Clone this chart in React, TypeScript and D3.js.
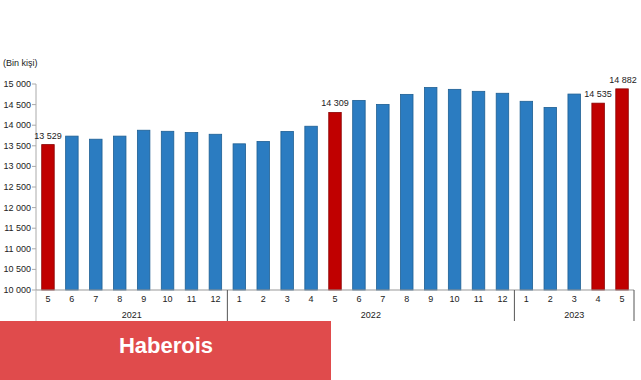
import React from "react";
import * as d3 from "d3";

const months: string[] = ["5","6","7","8","9","10","11","12","1","2","3","4","5","6","7","8","9","10","11","12","1","2","3","4","5"];
const years: string[] = ["2021","2022","2023"];
const yearCounts: number[] = [8, 12, 5];
const values: number[] = [13529,13735,13660,13735,13878,13852,13822,13780,13548,13605,13848,13975,14309,14602,14505,14748,14915,14870,14822,14775,14580,14432,14756,14535,14882];
const highlighted: number[] = [0, 12, 23, 24];
const yTicks: number[] = [10000,10500,11000,11500,12000,12500,13000,13500,14000,14500,15000];

const fmt = (v: number) => d3.format(",")(v).replace(/,/g, " ");

export default function App() {
  const W = 641, H = 380;
  const left = 36, right = 634, top = 84, bottom = 290;
  const ids = months.map((_, i) => String(i));
  const x = d3.scaleBand<string>().domain(ids).range([left, right]).paddingInner(0.48).paddingOuter(0.24);
  const y = d3.scaleLinear().domain([10000, 15000]).range([bottom, top]);
  const step = x.step();
  let acc = 0;
  const seps: number[] = [left];
  const yearPos = yearCounts.map((c) => {
    const s = left + acc * ((right - left) / months.length);
    acc += c;
    const e = left + acc * ((right - left) / months.length);
    seps.push(e);
    return (s + e) / 2;
  });
  const bw = (right - left) / months.length;
  const cx = (i: number) => left + bw * (i + 0.5);
  const barW = 12.5;
  return (
    <svg width={W} height={H} style={{ position: "absolute", left: 0, top: 0, fontFamily: "'Liberation Sans', Arial, sans-serif" }}>
      <rect x={0} y={0} width={W} height={H} fill="#fff" />
      <text x={3} y={66} fontSize={9} fill="#222">(Bin kişi)</text>
      <line x1={left} x2={left} y1={top} y2={bottom} stroke="#aaa" strokeWidth={1} />
      {yTicks.map((t) => (
        <g key={t}>
          <line x1={left - 4} x2={left} y1={y(t)} y2={y(t)} stroke="#aaa" />
          <text x={left - 5} y={y(t) + 3} fontSize={9} textAnchor="end" fill="#222">{fmt(t)}</text>
        </g>
      ))}
      {values.map((v, i) => {
        const hl = highlighted.includes(i);
        return (
          <rect key={i} x={cx(i) - barW / 2} y={y(v)} width={barW} height={bottom - y(v)}
            fill={hl ? "#c00000" : "#2b7cc1"} stroke={hl ? "#8a0000" : "#1e5f93"} strokeWidth={0.8} />
        );
      })}
      {highlighted.map((i) => (
        <text key={"l" + i} x={cx(i) + (i === 24 ? 1 : 0)} y={y(values[i]) - 6} fontSize={9} textAnchor="middle" fill="#222">{fmt(values[i])}</text>
      ))}
      <line x1={left} x2={right} y1={bottom} y2={bottom} stroke="#999" />
      {seps.map((s, i) => (
        <line key={"s" + i} x1={s} x2={s} y1={bottom} y2={321} stroke={i === 0 ? "#bbb" : "#555"} strokeWidth={1} />
      ))}
      {months.map((m, i) => (
        <text key={"m" + i} x={cx(i)} y={302} fontSize={9} textAnchor="middle" fill="#222">{m}</text>
      ))}
      {years.map((yr, i) => (
        <text key={yr} x={yearPos[i]} y={318} fontSize={9} textAnchor="middle" fill="#222">{yr}</text>
      ))}
      <rect x={0} y={321} width={331} height={59} fill="#e04b4c" />
      <text x={166} y={353} fontSize={22} fontWeight="bold" textAnchor="middle" fill="#fff">Haberois</text>
      {step > 0 ? null : null}
    </svg>
  );
}
